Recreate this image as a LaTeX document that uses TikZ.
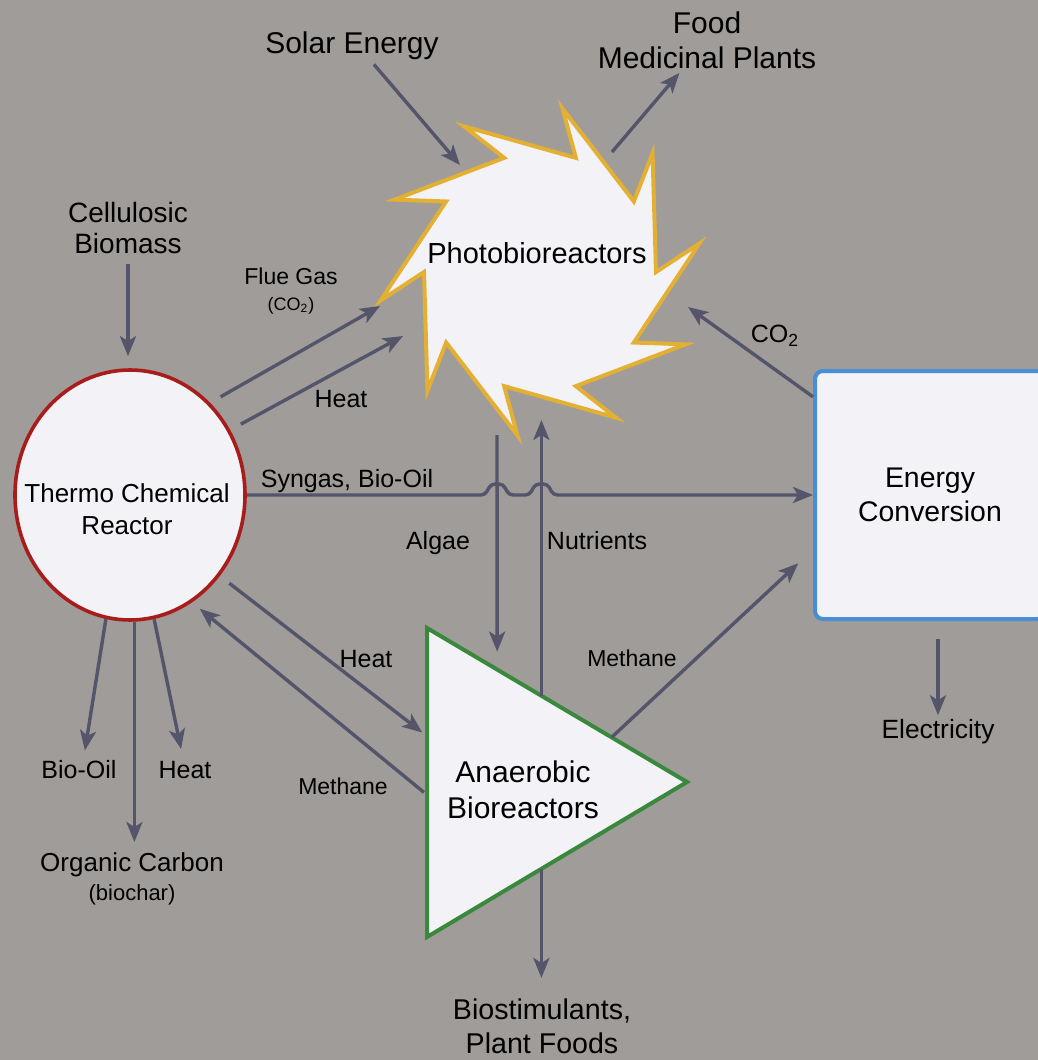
\documentclass[tikz,border=0pt]{standalone}
\usepackage{fontspec}
\setmainfont{Liberation Sans}
\usetikzlibrary{arrows.meta, positioning, shapes.geometric, calc}
\definecolor{PanelGrey}{RGB}{160,156,153}
\definecolor{FlowGrey}{RGB}{84,84,106}
\definecolor{ReactorRed}{RGB}{168,28,28}
\definecolor{SunYellow}{RGB}{228,176,52}
\definecolor{DigestGreen}{RGB}{58,136,62}
\definecolor{PowerBlue}{RGB}{72,142,212}
\definecolor{PaleFill}{RGB}{242,242,247}

\begin{document}
\begin{tikzpicture}[
    x=0.5pt, y=-0.5pt,
    every node/.style={text=black},
    unit/.style={fill=PaleFill, line width=2pt},
    nodetext/.style={font=\fontsize{14.5}{17}\selectfont, align=center, inner sep=0pt},
    lbl/.style={font=\fontsize{12.5}{15.5}\selectfont, align=center, inner sep=2pt},
    smalllbl/.style={font=\fontsize{11.5}{13}\selectfont, align=center, inner sep=2pt},
    toplbl/.style={font=\fontsize{15}{17.5}\selectfont, align=center, inner sep=2pt},
    flow/.style={-{Stealth[length=10pt, width=8pt, inset=2.5pt]}, line width=1.7pt, FlowGrey},
]

% canvas
\useasboundingbox (0,0) rectangle (1038,1060);
\fill[PanelGrey] (0,0) rectangle (1038,1060);
\clip (0,0) rectangle (1038,1060);

% thermo chemical reactor
\node[ellipse, draw=ReactorRed, unit, line width=1.8pt, minimum width=115pt,
      minimum height=125pt, inner sep=0pt] (tcr) at (130,495) {};
\node[nodetext, font=\fontsize{13}{16}\selectfont] (tcrtext) at (127,509)
    {Thermo Chemical\\Reactor};

% energy conversion
\node[draw=PowerBlue, unit, rounded corners=4pt, minimum width=115pt,
      minimum height=124pt, nodetext, font=\fontsize{14.2}{17}\selectfont] (ec) at (930,495)
    {Energy\\Conversion};

% photobioreactors
\coordinate (pbrc) at (540,272);
\draw[draw=SunYellow, unit, line join=miter] ($(pbrc)+(134:162 and 165)$)
    \foreach \s in {-190,-154,...,98} {
        -- ($(pbrc)+(\s+10:116 and 120)$) -- ($(pbrc)+(\s:162 and 165)$)
    } -- ($(pbrc)+(144:116 and 120)$) -- cycle;
\node[nodetext] (pbr) at (537,253) {Photobioreactors};

% anaerobic bioreactors
\coordinate (abA) at (427,628);
\coordinate (abB) at (427,937);
\coordinate (abC) at (687,782);
\draw[draw=DigestGreen, unit, line join=miter] (abA) -- (abC) -- (abB) -- cycle;
\node[nodetext, font=\fontsize{15}{18}\selectfont] (abr) at (523,790)
    {Anaerobic\\Bioreactors};

% labels
\node[toplbl] (solar) at (352,46) {Solar Energy};
\node[toplbl] (food) at (707,40) {Food\\Medicinal Plants};
\node[lbl, font=\fontsize{14}{15.5}\selectfont] (biomass) at (128,228) {Cellulosic\\Biomass};
\node[smalllbl] (flue) at (291,291)
    {Flue Gas\\{\fontsize{9}{11}\selectfont(CO\textsubscript{2})}};
\node[lbl] (heatpbr) at (341,399) {Heat};
\node[lbl] (co2) at (775,336) {CO\textsubscript{2}};
\node[lbl] (syngas) at (347,481) {Syngas, Bio-Oil};
\node[lbl] (algae) at (438,543) {Algae};
\node[lbl] (nutrients) at (597,541) {Nutrients};
\node[lbl] (heatab) at (366,659) {Heat};
\node[smalllbl] (methec) at (632,658) {Methane};
\node[smalllbl] (methtcr) at (343,786) {Methane};
\node[lbl, font=\fontsize{13.2}{15}\selectfont] (elec) at (938,732) {Electricity};
\node[lbl] (biooil) at (79,770) {Bio-Oil};
\node[lbl] (heatout) at (185,770) {Heat};
\node[lbl, font=\fontsize{13}{14.5}\selectfont, anchor=north] (orgc) at (132,848)
    {Organic Carbon\\{\fontsize{11}{13}\selectfont(biochar)}};
\node[lbl, font=\fontsize{14.3}{17}\selectfont, anchor=north] (biostim) at (542,994)
    {Biostimulants,\\Plant Foods};

% contact points
\coordinate (pbrSun) at ($(pbrc)+(-80,-107)$);
\coordinate (pbrFood) at ($(pbrc)+(72,-120)$);
\coordinate (pbrFlue) at ($(pbrc)+(-160,34)$);
\coordinate (pbrHeat) at ($(pbrc)+(-137,64)$);
\coordinate (pbrCO) at ($(pbrc)+(148,35)$);
\coordinate (pbrAlgae) at ($(pbrc)+(-43,163)$);
\coordinate (pbrNutr) at ($(pbrc)+(1,148)$);
\coordinate (abAlgae) at ($(abA)!0.27!(abC)$);
\coordinate (abNutr) at ($(abA)!0.44!(abC)$);
\coordinate (abMeth) at ($(abA)!0.71!(abC)$);
\coordinate (abHeat) at ($(abA)!0.35!(abB)$);
\coordinate (abMethT) at ($(abA)!0.54!(abB)$);
\coordinate (abOut) at ($(abB)!0.44!(abC)$);
\coordinate (hopA) at (pbrAlgae |- tcr.east);
\coordinate (hopB) at (abNutr |- tcr.east);

% flows
\draw[flow, shorten <=3pt, shorten >=6pt] (biomass.south) -- (biomass.south |- tcr.north);
\draw[flow] (solar.-40) -- (pbrSun);
\draw[flow] (pbrFood) -- (food.-130);
\draw[flow, shorten <=6pt] (tcr.49) -- (pbrFlue);
\draw[flow, shorten <=6pt] (tcr.33) -- (pbrHeat);
\draw[flow] (ec.140) -- (pbrCO);
\draw[flow, rounded corners=2pt] (tcr.east) -- ([xshift=-6pt]hopA) -- ++(6,-11) -- ++(12,0)
    -- ++(6,11) -- ([xshift=-6pt]hopB) -- ++(6,-11) -- ++(12,0) -- ++(6,11) -- (ec.west);
\draw[flow, shorten >=9pt] (pbrAlgae) -- (abAlgae);
\draw[flow] (abNutr) -- (abNutr |- pbrNutr);
\draw[flow, shorten <=6pt, shorten >=3pt] (tcr.-42) -- (abHeat);
\draw[flow, shorten <=2pt, shorten >=5pt] (abMethT) -- (tcr.-60);
\draw[flow, shorten >=10pt] (abMeth) -- (ec.205);
\draw[flow, shorten <=9pt] (ec.south -| elec) -- (elec.north);
\draw[flow, shorten >=3pt] (tcr.-101) -- (biooil.70);
\draw[flow, shorten >=3pt] (tcr.-88) -- (tcr.-88 |- orgc.north);
\draw[flow, shorten >=4pt] (tcr.-79) -- (heatout.100);
\draw[flow, shorten >=8pt] (abOut) -- (abOut |- biostim.north);

\end{tikzpicture}
\end{document}
